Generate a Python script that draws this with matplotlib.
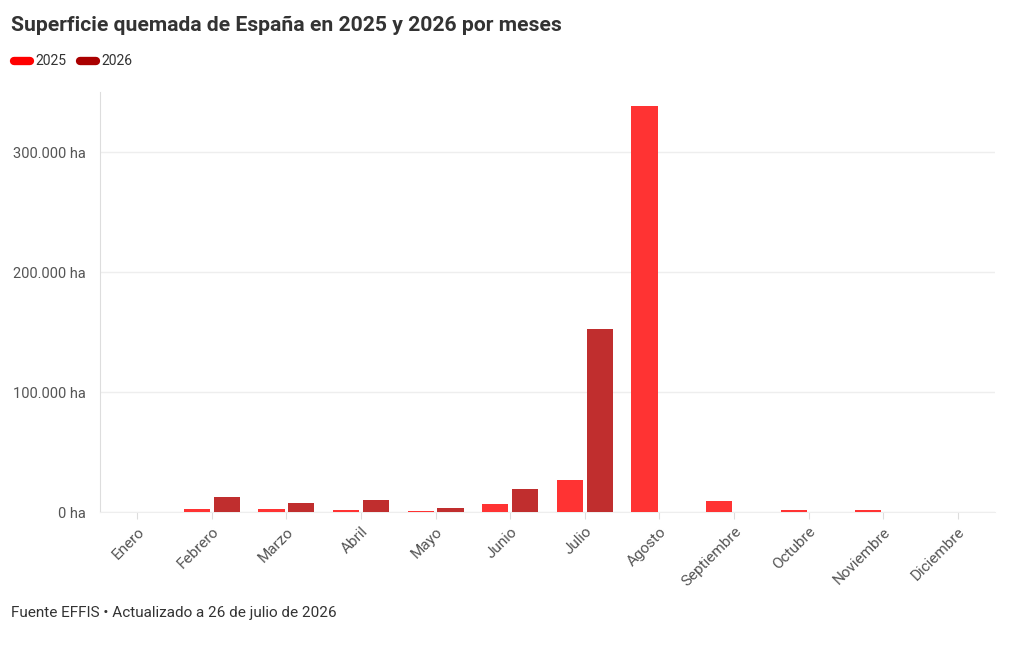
import numpy as np
import matplotlib
matplotlib.use('Agg')
import matplotlib.pyplot as plt
from matplotlib.lines import Line2D
from matplotlib.ticker import FuncFormatter

plt.rcParams['font.family'] = ['Roboto', 'DejaVu Sans']

meses = ['Enero', 'Febrero', 'Marzo', 'Abril', 'Mayo', 'Junio', 'Julio',
         'Agosto', 'Septiembre', 'Octubre', 'Noviembre', 'Diciembre']
ha_2025 = [300, 2700, 2200, 1700, 800, 6700, 26700, 338300, 8900, 1500, 1300, 0]
ha_2026 = [0, 12200, 7300, 9700, 3600, 19200, 152200, 0, 0, 0, 0, 0]

c25 = '#ff3333'
c26 = '#c02e2e'

fig = plt.figure(figsize=(10.2, 6.59), dpi=100)
ax = fig.add_axes([100/1020, 1-512/659, 895/1020, 420/659])

x = np.arange(len(meses))
w = 0.35
ax.bar(x - 0.2, ha_2025, width=w, color=c25, zorder=3)
ax.bar(x + 0.2, ha_2026, width=w, color=c26, zorder=3)

ax.set_xlim(-0.5, 11.5)
ax.set_ylim(0, 350000)
ax.set_yticks([0, 100000, 200000, 300000])
ax.yaxis.set_major_formatter(FuncFormatter(lambda v, p: f'{int(v):,} ha'.replace(',', '.')))
ax.grid(axis='y', color='#eeeeee', lw=1, zorder=0)
ax.set_xticks(x)
ax.set_xticklabels(meses, rotation=45, ha='right', rotation_mode='anchor')
ax.tick_params(axis='y', length=0, labelsize=10.5, labelcolor='#555555', pad=10)
ax.tick_params(axis='x', length=5, color='#dddddd', labelsize=11, labelcolor='#555555', pad=4)
for s in ['top', 'right']:
    ax.spines[s].set_visible(False)
ax.spines['left'].set_color('#dddddd')
ax.spines['bottom'].set_color('#eeeeee')

fig.text(11/1020, 1-25/659, 'Superficie quemada de España en 2025 y 2026 por meses',
         fontsize=15.2, fontweight='bold', color='#333333', va='center', ha='left')

# leyenda
for x0, col, lab in [(14, '#ff0000', '2025'), (80, '#aa0000', '2026')]:
    fig.add_artist(Line2D([x0/1020, (x0+16)/1020], [1-61/659]*2, transform=fig.transFigure,
                          lw=6, color=col, solid_capstyle='round'))
    fig.text((x0+21)/1020, 1-61/659, lab, fontsize=10, color='#333333', va='center', ha='left')

fig.text(11/1020, 1-613/659, 'Fuente EFFIS • Actualizado a 26 de julio de 2026',
         fontsize=11, color='#333333', va='center', ha='left')

fig.savefig('out.png', dpi=100)
